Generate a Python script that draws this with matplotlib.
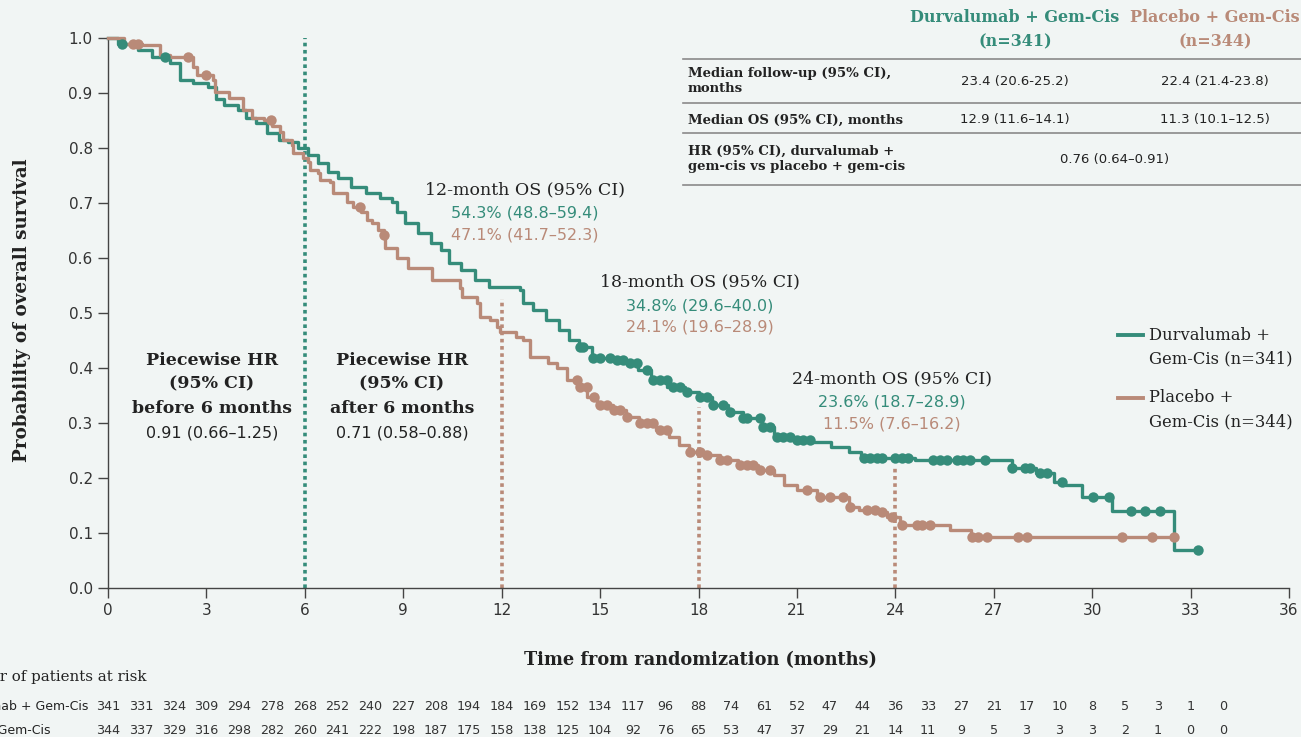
import numpy as np
import matplotlib
matplotlib.use("Agg")
import matplotlib.pyplot as plt
from matplotlib.lines import Line2D
from matplotlib.transforms import blended_transform_factory

# ---- data ----
durva_t = [0, 0.3, 0.9, 1.35, 1.9, 2.2, 2.6, 3.05, 3.3, 3.55, 3.95, 4.2, 4.5, 4.85,
           5.2, 5.5, 5.8, 6.1, 6.4, 6.7, 7.0, 7.4, 7.85, 8.3, 8.65, 8.8, 9.05, 9.45,
           9.85, 10.15, 10.4, 10.75, 11.2, 11.6, 12.55, 12.65, 12.95, 13.35, 13.75,
           14.05, 14.35, 14.75, 15.35, 15.75, 16.15, 16.55, 17.05, 17.6, 18.0, 18.4,
           18.9, 19.35, 19.95, 20.3, 20.85, 21.45, 22.05, 22.6, 22.95, 24.6, 27.55,
           28.3, 28.85, 29.1, 29.7, 30.6, 32.5]
durva_s = [1.0, 0.99, 0.978, 0.965, 0.955, 0.924, 0.918, 0.911, 0.889, 0.878, 0.869,
           0.855, 0.845, 0.827, 0.815, 0.811, 0.800, 0.787, 0.773, 0.757, 0.745, 0.729,
           0.718, 0.709, 0.702, 0.684, 0.664, 0.645, 0.627, 0.615, 0.591, 0.578, 0.560,
           0.547, 0.541, 0.518, 0.505, 0.487, 0.469, 0.451, 0.438, 0.418, 0.415, 0.409,
           0.396, 0.378, 0.366, 0.356, 0.347, 0.333, 0.320, 0.309, 0.293, 0.275, 0.269,
           0.265, 0.256, 0.247, 0.236, 0.233, 0.218, 0.209, 0.193, 0.187, 0.165, 0.140,
           0.069]
durva_end = 33.24
durva_cens = [0.42, 1.74, 14.39, 14.48, 14.79, 15.0, 15.3, 15.52, 15.7, 15.91, 16.13,
              16.43, 16.62, 16.83, 17.04, 17.23, 17.44, 17.65, 18.05, 18.26, 18.44,
              18.75, 18.96, 19.36, 19.48, 19.88, 19.97, 20.18, 20.4, 20.58, 20.79, 21.0,
              21.19, 21.4, 23.03, 23.23, 23.43, 23.59, 23.99, 24.2, 24.4, 25.16, 25.37,
              25.57, 25.87, 26.07, 26.28, 26.74, 27.55, 27.96, 28.11, 28.41, 28.62,
              29.07, 30.04, 30.5, 31.17, 31.62, 32.07, 33.24]

plac_t = [0, 0.5, 1.05, 1.6, 1.9, 2.6, 2.7, 3.2, 3.26, 3.7, 4.1, 4.4, 4.75, 5.0, 5.24,
          5.34, 5.6, 5.65, 5.95, 6.1, 6.16, 6.4, 6.46, 6.77, 6.87, 7.28, 7.47, 7.7, 7.9,
          8.05, 8.23, 8.4, 8.45, 8.8, 9.15, 9.87, 10.73, 10.8, 11.25, 11.35, 11.65, 11.85,
          11.95, 12.45, 12.65, 12.87, 13.4, 13.7, 14.0, 14.3, 14.6, 14.9, 15.4, 15.8,
          16.2, 16.7, 17.1, 17.4, 17.7, 18.25, 18.66, 19.2, 19.8, 20.3, 20.6, 21.0, 21.6,
          22.6, 22.9, 23.4, 23.75, 24.15, 25.67, 26.3]
plac_s = [1.0, 0.99, 0.987, 0.969, 0.965, 0.947, 0.933, 0.924, 0.902, 0.891, 0.869,
          0.855, 0.851, 0.840, 0.829, 0.815, 0.805, 0.791, 0.782, 0.775, 0.760, 0.755,
          0.742, 0.738, 0.718, 0.702, 0.693, 0.684, 0.669, 0.664, 0.651, 0.642, 0.618,
          0.600, 0.582, 0.560, 0.545, 0.529, 0.518, 0.493, 0.487, 0.475, 0.465, 0.456,
          0.451, 0.420, 0.409, 0.400, 0.378, 0.366, 0.347, 0.333, 0.324, 0.311, 0.300,
          0.287, 0.275, 0.260, 0.247, 0.242, 0.233, 0.224, 0.215, 0.205, 0.187, 0.178,
          0.165, 0.147, 0.142, 0.138, 0.129, 0.115, 0.105, 0.093]
plac_end = 32.48
plac_cens = [0.77, 0.92, 2.45, 3.0, 4.97, 7.68, 8.4, 14.29, 14.39, 14.59, 14.8, 15.0,
             15.2, 15.41, 15.61, 15.81, 16.22, 16.42, 16.62, 16.83, 17.03, 17.74, 18.05,
             18.25, 18.66, 18.86, 19.27, 19.47, 19.67, 19.88, 20.18, 21.3, 21.7, 22.0,
             22.4, 22.62, 23.13, 23.38, 23.59, 23.89, 24.2, 24.65, 24.81, 25.06, 26.33,
             26.53, 26.79, 27.75, 28.0, 30.9, 31.82, 32.48]

landmark_months = [12, 18, 24]
landmark_durva = ["54.3% (48.8–59.4)", "34.8% (29.6–40.0)", "23.6% (18.7–28.9)"]
landmark_plac = ["47.1% (41.7–52.3)", "24.1% (19.6–28.9)", "11.5% (7.6–16.2)"]
landmark_os = [0.543, 0.348, 0.236]

risk_months = list(range(0, 35))
risk_durva = [341, 331, 324, 309, 294, 278, 268, 252, 240, 227, 208, 194, 184, 169, 152,
              134, 117, 96, 88, 74, 61, 52, 47, 44, 36, 33, 27, 21, 17, 10, 8, 5, 3, 1, 0]
risk_plac = [344, 337, 329, 316, 298, 282, 260, 241, 222, 198, 187, 175, 158, 138, 125,
             104, 92, 76, 65, 53, 47, 37, 29, 21, 14, 11, 9, 5, 3, 3, 3, 2, 1, 0, 0]

TEAL = "#358c7a"
TAN = "#b98a78"
BG = "#f1f5f4"
INK = "#222222"
SERIF = "DejaVu Serif"
SANS = "DejaVu Sans"

W, H = 1301, 737


def fx(px):
    return px / W


def fy(py):
    return 1 - py / H


def surv_at(t, s, x):
    idx = np.searchsorted(t, x, side="right") - 1
    return np.asarray(s)[idx]


fig = plt.figure(figsize=(W / 100, H / 100), dpi=100, facecolor=BG)
ax = fig.add_axes([fx(108), fy(588), fx(1289) - fx(108), fy(38) - fy(588)])
ax.set_facecolor(BG)

for t, s, end, cens, col in [(durva_t, durva_s, durva_end, durva_cens, TEAL),
                             (plac_t, plac_s, plac_end, plac_cens, TAN)]:
    ax.step(list(t) + [end], list(s) + [s[-1]], where="post", color=col, lw=2.4,
            clip_on=False, zorder=3)
    ax.plot(cens, surv_at(t, s, cens), "o", color=col, ms=7.5, mew=0, clip_on=False,
            zorder=4)

# 6-month split and landmark lines
ax.vlines(6, 0, 1.0, colors=TEAL, linestyles=(0, (1, 1)), lw=2.6, zorder=2)
for m, v in zip(landmark_months, landmark_os):
    ax.vlines(m, 0, v - 0.018, colors=TAN, linestyles=(0, (1, 1)), lw=2.6, zorder=2)

# landmark annotations
lm_pos = [(12.7, 0.724), (18.05, 0.556), (23.9, 0.381)]
for (x, y), d, p, m in zip(lm_pos, landmark_durva, landmark_plac, landmark_months):
    ax.text(x, y, f"{m}-month OS (95% CI)", ha="center", va="center", fontsize=12.5,
            family=SERIF, color=INK)
    ax.text(x, y - 0.043, d, ha="center", va="center", fontsize=11.5, family=SANS,
            color=TEAL)
    ax.text(x, y - 0.082, p, ha="center", va="center", fontsize=11.5, family=SANS,
            color=TAN)

# piecewise HR blocks
for x, when, val in [(3.17, "before", "0.91 (0.66–1.25)"), (8.96, "after", "0.71 (0.58–0.88)")]:
    ax.text(x, 0.413, "Piecewise HR", ha="center", va="center", fontsize=12.5,
            family=SERIF, weight="bold", color=INK)
    ax.text(x, 0.371, "(95% CI)", ha="center", va="center", fontsize=12.5,
            family=SERIF, weight="bold", color=INK)
    ax.text(x, 0.326, f"{when} 6 months", ha="center", va="center", fontsize=12.5,
            family=SERIF, weight="bold", color=INK)
    ax.text(x, 0.281, val, ha="center", va="center", fontsize=11.5, family=SANS,
            color=INK)

ax.set_xlim(0, 36)
ax.set_ylim(0, 1.0)
ax.set_xticks(np.arange(0, 37, 3))
ax.set_yticks(np.arange(0, 1.01, 0.1))
ax.set_yticklabels([f"{v:.1f}" for v in np.arange(0, 1.01, 0.1)])
for sp in ["top", "right"]:
    ax.spines[sp].set_visible(False)
for sp in ["left", "bottom"]:
    ax.spines[sp].set_color("#444444")
    ax.spines[sp].set_linewidth(1.0)
ax.tick_params(direction="out", length=7, width=1.0, color="#444444",
               labelcolor="#333333", labelsize=11, pad=4)
for lab in ax.get_xticklabels() + ax.get_yticklabels():
    lab.set_family(SANS)

fig.text(fx(22), fy(310), "Probability of overall survival", rotation=90,
         ha="center", va="center", fontsize=13.2, family=SERIF, weight="bold", color=INK)
fig.text(fx(700), fy(660), "Time from randomization (months)", ha="center",
         va="center", fontsize=12.8, family=SERIF, weight="bold", color=INK)

# legend
for py, col, l1, l2 in [(335, TEAL, "Durvalumab +", "Gem-Cis (n=341)"),
                        (398, TAN, "Placebo +", "Gem-Cis (n=344)")]:
    fig.add_artist(Line2D([fx(1118), fx(1143)], [fy(py), fy(py)], color=col, lw=2.8))
    fig.text(fx(1149), fy(py), l1, ha="left", va="center", fontsize=11.8,
             family=SERIF, color=INK)
    fig.text(fx(1149), fy(py + 24), l2, ha="left", va="center", fontsize=11.8,
             family=SERIF, color=INK)

# summary table
fig.text(fx(1015), fy(18), "Durvalumab + Gem-Cis", ha="center", va="center",
         fontsize=11.5, family=SERIF, weight="bold", color=TEAL)
fig.text(fx(1015), fy(42), "(n=341)", ha="center", va="center",
         fontsize=11.5, family=SERIF, weight="bold", color=TEAL)
fig.text(fx(1215), fy(18), "Placebo + Gem-Cis", ha="center", va="center",
         fontsize=11.5, family=SERIF, weight="bold", color=TAN)
fig.text(fx(1215), fy(42), "(n=344)", ha="center", va="center",
         fontsize=11.5, family=SERIF, weight="bold", color=TAN)
for py in [59, 103, 133, 185]:
    fig.add_artist(Line2D([fx(683), 1.0], [fy(py), fy(py)], color="#8a8a8a", lw=1.2))
rows = [(81, "Median follow-up (95% CI),\nmonths", "23.4 (20.6-25.2)", "22.4 (21.4-23.8)"),
        (120, "Median OS (95% CI), months", "12.9 (11.6–14.1)", "11.3 (10.1–12.5)"),
        (159, "HR (95% CI), durvalumab +\ngem-cis vs placebo + gem-cis", "0.76 (0.64–0.91)", None)]
for py, lab, v1, v2 in rows:
    fig.text(fx(688), fy(py), lab, ha="left", va="center", fontsize=9.5,
             family=SERIF, weight="bold", color=INK, linespacing=1.25)
    if v2 is None:
        fig.text(fx(1115), fy(py), v1, ha="center", va="center", fontsize=9.5,
                 family=SANS, color=INK)
    else:
        fig.text(fx(1015), fy(py), v1, ha="center", va="center", fontsize=9.5,
                 family=SANS, color=INK)
        fig.text(fx(1215), fy(py), v2, ha="center", va="center", fontsize=9.5,
                 family=SANS, color=INK)

# number at risk (left edge is cut off in the reference too)
fig.text(fx(147), fy(677), "Number of patients at risk", ha="right", va="center",
         fontsize=10.8, family=SERIF, color=INK)
fig.text(fx(88), fy(706), "Durvalumab + Gem-Cis", ha="right", va="center",
         fontsize=9, family=SANS, color=INK)
fig.text(fx(50), fy(731), "Placebo + Gem-Cis", ha="right", va="center",
         fontsize=9, family=SANS, color=INK)
trans = blended_transform_factory(ax.transData, fig.transFigure)
for m, a, b in zip(risk_months, risk_durva, risk_plac):
    ax.text(m, fy(706), str(a), transform=trans, ha="center", va="center",
            fontsize=9.2, family=SANS, color="#333333", clip_on=False)
    ax.text(m, fy(731), str(b), transform=trans, ha="center", va="center",
            fontsize=9.2, family=SANS, color="#333333", clip_on=False)

fig.savefig("out.png", dpi=100, facecolor=BG)
